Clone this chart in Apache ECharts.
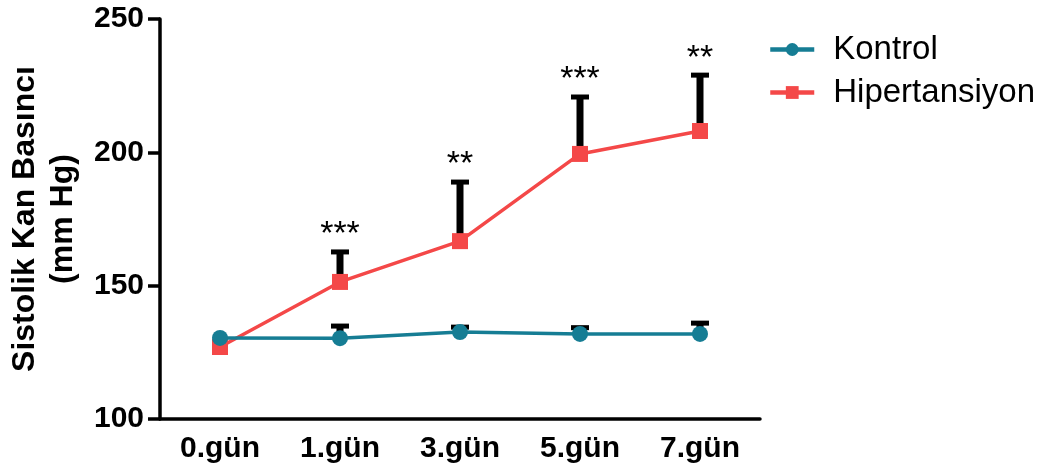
<!DOCTYPE html>
<html><head><meta charset="utf-8">
<script src="https://cdn.jsdelivr.net/npm/echarts@6/dist/echarts.min.js"></script>
<style>html,body{margin:0;padding:0;background:#fff}#c{width:1041px;height:474px}</style>
</head><body><div id="c"></div>
<script>
const categories = ['0.gün', '1.gün', '3.gün', '5.gün', '7.gün'];
const kontrolMean = [130.4, 130.3, 132.6, 131.9, 131.9];
const kontrolUpper = [130.4, 135.6, 135.2, 135.0, 136.7];
const hiperMean = [127.0, 151.4, 166.7, 199.4, 208.0];
const hiperUpper = [127.0, 163.4, 189.6, 221.5, 229.7];
const sigLabels = ['', '***', '**', '***', '**'];
const yTicks = [100, 150, 200, 250];

const FONT = 'Liberation Sans, Arial, sans-serif';
const teal = '#167d94';
const red = '#f44848';

function errData(mean, upper) {
  return mean.map((m, i) => [i, m, upper[i]]);
}
function errRender(withStars) {
  return function (params, api) {
    const i = api.value(0);
    const p0 = api.coord([i, api.value(1)]);
    const p1 = api.coord([i, api.value(2)]);
    const children = [];
    if (p0[1] - p1[1] > 0.5) {
      children.push({type: 'line', shape: {x1: p0[0], y1: p0[1], x2: p1[0], y2: p1[1] + 2}, style: {stroke: '#000', lineWidth: 7}});
      children.push({type: 'line', shape: {x1: p1[0] - 9, y1: p1[1] + 2, x2: p1[0] + 9, y2: p1[1] + 2}, style: {stroke: '#000', lineWidth: 5}});
    }
    if (withStars) {
      const s = sigLabels[params.dataIndex];
      if (s) children.push({type: 'text', x: p1[0], y: p1[1] + 2, style: {text: s, font: '34px ' + FONT, fill: '#000', align: 'center', verticalAlign: 'bottom'}});
    }
    return {type: 'group', children};
  };
}

const chart = echarts.init(document.getElementById('c'), null, {renderer: 'canvas'});
chart.setOption({
  animation: false,
  grid: {left: 160, top: 19, width: 600, bottom: 55, containLabel: false, outerBoundsMode: 'none'},
  legend: {
    left: 763, top: 28, orient: 'vertical', itemWidth: 44, itemHeight: 16, itemGap: 10,
    textStyle: {fontFamily: FONT, fontSize: 33, color: '#000', padding: [0, 0, 0, 14]},
    lineStyle: {width: 4.5},
    data: ['Kontrol', 'Hipertansiyon']
  },
  xAxis: {
    type: 'category', data: categories, boundaryGap: true,
    axisLine: {lineStyle: {color: '#000', width: 3.5}},
    axisTick: {alignWithLabel: true, length: 11, lineStyle: {color: '#000', width: 3.5}},
    axisLabel: {fontFamily: FONT, fontSize: 30, fontWeight: 'bold', color: '#000', margin: 15}
  },
  yAxis: {
    type: 'value', min: 100, max: 250, interval: 50,
    name: 'Sistolik Kan Basıncı\n(mm Hg)', nameLocation: 'middle', nameGap: 78, nameRotate: 90,
    nameTextStyle: {fontFamily: FONT, fontSize: 32, fontWeight: 'bold', color: '#000', lineHeight: 38},
    axisLine: {show: true, lineStyle: {color: '#000', width: 3.5}},
    axisTick: {show: true, length: 12, lineStyle: {color: '#000', width: 3.5}},
    splitLine: {show: false},
    axisLabel: {fontFamily: FONT, fontSize: 30, fontWeight: 'bold', color: '#000', margin: 16,
      customValues: yTicks}
  },
  series: [
    {type: 'custom', name: 'errK', renderItem: errRender(false), data: errData(kontrolMean, kontrolUpper), z: 1, silent: true, encode: {x: 0, y: [1, 2]}},
    {type: 'custom', name: 'errH', renderItem: errRender(true), data: errData(hiperMean, hiperUpper), z: 1, silent: true, encode: {x: 0, y: [1, 2]}},
    {type: 'line', name: 'Kontrol', data: kontrolMean, z: 3, symbol: 'circle', symbolSize: 16,
      lineStyle: {color: teal, width: 3.5}, itemStyle: {color: teal}},
    {type: 'line', name: 'Hipertansiyon', data: hiperMean, z: 2, symbol: 'rect', symbolSize: 16,
      lineStyle: {color: red, width: 3.5}, itemStyle: {color: red}}
  ]
});
</script></body></html>
